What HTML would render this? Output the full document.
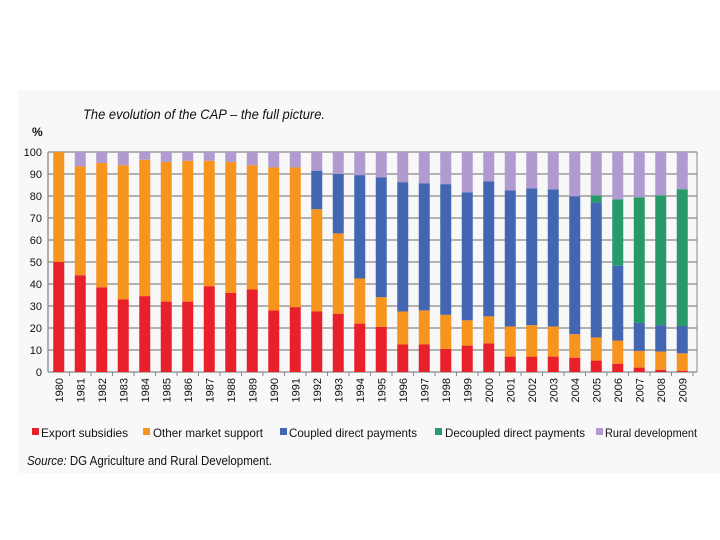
<!DOCTYPE html>
<html><head><meta charset="utf-8"><style>
html,body{margin:0;padding:0;background:#fff;}
body{width:720px;height:540px;position:relative;overflow:hidden;font-family:"Liberation Sans",sans-serif;}
</style></head><body>
<svg id="chart" width="720" height="540" xmlns="http://www.w3.org/2000/svg" style="position:absolute;left:0;top:0">
<rect x="18" y="90" width="702" height="383" fill="#f8f8f8"/>
<text x="83" y="119" font-size="14" font-style="italic" fill="#111" textLength="242" lengthAdjust="spacingAndGlyphs">The evolution of the CAP – the full picture.</text>
<text x="32" y="136" font-size="12" font-weight="bold" fill="#111">%</text>
<g id="grid"></g><g id="bars"></g><g id="axes"></g><g id="legend"></g>
<text x="27" y="465" font-size="13" fill="#111" textLength="245" lengthAdjust="spacingAndGlyphs"><tspan font-style="italic">Source:</tspan> DG Agriculture and Rural Development.</text>
</svg>
<script>
const years=["1980","1981","1982","1983","1984","1985","1986","1987","1988","1989","1990","1991","1992","1993","1994","1995","1996","1997","1998","1999","2000","2001","2002","2003","2004","2005","2006","2007","2008","2009"];
const exportSubsidies=[50,44,38.5,33,34.5,32,32,39,36,37.5,28,29.5,27.5,26.5,22,20.5,12.5,12.5,10.5,12,13,7,7,7,6.5,5.2,3.8,2,1,0.6];
const otherMarketSupport=[50,49.5,56.5,61,62,63.5,64,57,59.5,56.5,65,63.5,46.5,36.5,20.5,13.5,15,15.5,15.5,11.5,12.3,13.7,14.3,13.7,10.7,10.5,10.5,7.6,8.3,7.9];
const coupledDirect=[0,0,0,0,0,0,0,0,0,0,0,0,17.5,27,47,54.5,58.8,57.8,59.4,58.2,61.4,61.9,62.2,62.3,62.7,61.4,34,12.7,12,12.4];
const decoupledDirect=[0,0,0,0,0,0,0,0,0,0,0,0,0,0,0,0,0,0,0,0,0,0,0,0,0,3.2,30.2,57.1,59,62.2];
const ruralDevelopment=[0,6.5,5,6,3.5,4.5,4,4,4.5,6,7,7,8.5,10,10.5,11.5,13.7,14.2,14.6,18.3,13.3,17.4,16.5,17,20.1,19.7,21.5,20.6,19.7,16.9];
const yTicks=[0,10,20,30,40,50,60,70,80,90,100];
const seriesNames=["Export subsidies","Other market support","Coupled direct payments","Decoupled direct payments","Rural development"];
const seriesColors=["#e8202a","#f7941d","#4366b3","#27996a","#b09ad0"];
const seriesData=[exportSubsidies,otherMarketSupport,coupledDirect,decoupledDirect,ruralDevelopment];

const NS="http://www.w3.org/2000/svg";
const X0=48,X1=693,Y0=372,Y1=152;
const step=(X1-X0)/years.length;
function yScale(v){return Y0-(v/100)*(Y0-Y1);}
function xCenter(i){return X0+step*(i+0.5);}
function mk(tag,attrs,parent){const e=document.createElementNS(NS,tag);for(const k in attrs)e.setAttribute(k,attrs[k]);parent.appendChild(e);return e;}
const grid=document.getElementById('grid'),bars=document.getElementById('bars'),axes=document.getElementById('axes'),legend=document.getElementById('legend');
yTicks.forEach(t=>{
  const y=yScale(t);
  const l=mk('line',{x1:X0,x2:697,y1:y,y2:y,stroke:'#888','stroke-width':1.3},grid);
  
  
  const tx=mk('text',{x:X0-6,y:y+4,'text-anchor':'end','font-size':11,fill:'#111'},axes);
  tx.textContent=t;
  
  
});
const ax=mk('line',{x1:X0,x2:X0,y1:Y1,y2:Y0,stroke:'#888','stroke-width':1.3},axes);


const rx=mk('line',{x1:697,x2:697,y1:Y1,y2:Y0,stroke:'#888','stroke-width':1},axes);


years.forEach((yr,i)=>{
  const cx=xCenter(i);
  let cum=0;
  seriesData.forEach((arr,s)=>{
    const v=arr[i];
    if(v>0){
      const r=mk('rect',{x:cx-5.5,width:11,y:yScale(cum+v),height:yScale(cum)-yScale(cum+v),fill:seriesColors[s]},bars);
      
      
    }
    cum+=v;
  });
  const tk=mk('line',{x1:X0+step*(i+1),x2:X0+step*(i+1),y1:Y0,y2:Y0+4,stroke:'#888'},axes);
  
  
  const t=mk('text',{x:0,y:0,transform:`translate(${cx+4},378) rotate(-90)`,'text-anchor':'end','font-size':11,fill:'#111'},axes);
  t.textContent=yr;
  
  
});
const legSq=[32,143,280,435,596];
const legTx=[41,153,289,445,605];
const legW=[87,110,128,140,92];
seriesNames.forEach((n,s)=>{
  const g=mk('g',{},legend);
  
  
  mk('rect',{x:legSq[s],y:428,width:7,height:7,fill:seriesColors[s]},g);
  const t=mk('text',{x:legTx[s],y:437,'font-size':12,fill:'#111',textLength:legW[s],lengthAdjust:'spacingAndGlyphs'},g);
  t.textContent=n;
});
</script>
</body></html>
